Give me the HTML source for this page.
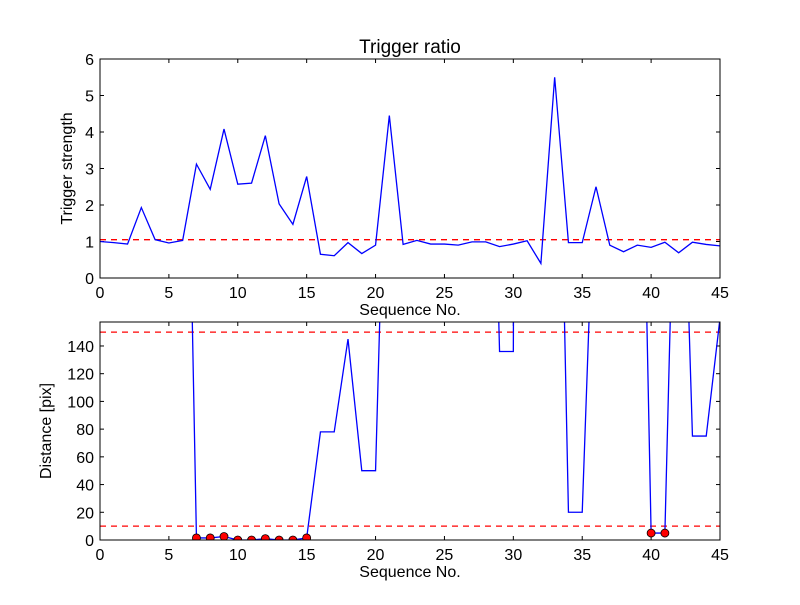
<!DOCTYPE html>
<html><head><meta charset="utf-8"><style>
body{margin:0;background:#fff;}
text{font-family:"Liberation Sans","DejaVu Sans",sans-serif;}
</style></head><body>
<svg id="chart" width="800" height="600" xmlns="http://www.w3.org/2000/svg">
<rect width="800" height="600" fill="#fff"/>
</svg>
<script>
const seq = Array.from({length:46},(_, i)=>i);
const strength = [1.0,0.97,0.93,1.93,1.05,0.96,1.03,3.12,2.43,4.08,2.57,2.6,3.9,2.03,1.47,2.78,0.65,0.61,0.97,0.67,0.9,4.45,0.92,1.03,0.93,0.93,0.9,0.99,0.99,0.86,0.93,1.02,0.4,5.5,0.97,0.97,2.5,0.9,0.72,0.9,0.84,0.98,0.69,0.98,0.92,0.88];
const distance = [520,520,520,520,520,520,520,1.5,1.5,2.5,0,0,1,0,0,1.5,78,78,145,50,50,407,500,500,500,500,500,500,520,136,136,3000,500,500,20,20,300,500,500,500,5,5,400,75,75,160];
const strengthThreshold = 1.05;
const distThresholds = [150,10];
const xTicks = [0,5,10,15,20,25,30,35,40,45];
const yTicksTop = [0,1,2,3,4,5,6];
const yTicksBot = [0,20,40,60,80,100,120,140];

const svg = document.getElementById('chart');
const NS = 'http://www.w3.org/2000/svg';
function mk(tag, attrs, parent){const e=document.createElementNS(NS,tag);for(const k in attrs)e.setAttribute(k,attrs[k]);(parent||svg).appendChild(e);return e;}
const X0=100,X1=720;
const xs = v => X0 + v/45*(X1-X0);
const topAx = {y0:278,y1:59,max:6};
const botAx = {y0:540,y1:322,max:157.3};
const ysT = v => topAx.y0 - v/topAx.max*(topAx.y0-topAx.y1);
const ysB = v => botAx.y0 - v/botAx.max*(botAx.y0-botAx.y1);

mk('defs',{}).innerHTML='<clipPath id="cb"><rect x="100" y="322" width="620" height="218"/></clipPath><clipPath id="ct"><rect x="100" y="59" width="620" height="219"/></clipPath>';

function axes(a, ys, yTicks, name, ylabel){
  const g = mk('g',{});
  
  
  xTicks.forEach(t=>{
    const x=xs(t);
    mk('line',{x1:x,x2:x,y1:a.y0,y2:a.y0-4,stroke:'#000'},g);
    mk('line',{x1:x,x2:x,y1:a.y1,y2:a.y1+4,stroke:'#000'},g);
    const tx=mk('text',{x:x,y:a.y0+20,'text-anchor':'middle','font-size':16},g);
    tx.textContent=t;
    
    
  });
  yTicks.forEach(t=>{
    const y=ys(t);
    mk('line',{x1:X0,x2:X0+4,y1:y,y2:y,stroke:'#000'},g);
    mk('line',{x1:X1,x2:X1-4,y1:y,y2:y,stroke:'#000'},g);
    const tx=mk('text',{x:X0-6,y:y+6,'text-anchor':'end','font-size':16},g);
    tx.textContent=t;
    
    
  });
  const xl=mk('text',{x:410,y:a.y0+37,'text-anchor':'middle','font-size':16},g);
  xl.textContent='Sequence No.';
  
  
  const cy=(a.y0+a.y1)/2;
  const yl=mk('text',{x:0,y:0,'text-anchor':'middle','font-size':16,transform:`translate(${name==='top'?72:51},${cy}) rotate(-90)`},g);
  yl.textContent=ylabel;
  
  
}

axes(topAx, ysT, yTicksTop, 'top', 'Trigger strength');
const thT=mk('line',{x1:X0,x2:X1,y1:ysT(strengthThreshold),y2:ysT(strengthThreshold),stroke:'#f00','stroke-width':1.3,'stroke-dasharray':'6,5'});


const lt=mk('polyline',{points:seq.map((s,i)=>xs(s)+','+ysT(strength[i])).join(' '),fill:'none',stroke:'#00f','stroke-width':1.3,'clip-path':'url(#ct)'});


mk('rect',{x:X0,y:topAx.y1,width:X1-X0,height:topAx.y0-topAx.y1,fill:'none',stroke:'#000'});
const title=mk('text',{x:410,y:53,'text-anchor':'middle','font-size':19});
title.textContent='Trigger ratio';



axes(botAx, ysB, yTicksBot, 'bottom', 'Distance [pix]');
distThresholds.forEach(t=>{
  const l=mk('line',{x1:X0,x2:X1,y1:ysB(t),y2:ysB(t),stroke:'#f00','stroke-width':1.3,'stroke-dasharray':'6,5'});
  
  
});
const lb=mk('polyline',{points:seq.map((s,i)=>xs(s)+','+ysB(distance[i])).join(' '),fill:'none',stroke:'#00f','stroke-width':1.3,'clip-path':'url(#cb)'});


seq.forEach((s,i)=>{
  if(distance[i]<distThresholds[1]){
    const c=mk('circle',{cx:xs(s),cy:ysB(distance[i]),r:4,fill:'#f00',stroke:'#000','stroke-width':0.8,'clip-path':'url(#cb)'});
    
    
  }
});
mk('rect',{x:X0,y:botAx.y1,width:X1-X0,height:botAx.y0-botAx.y1,fill:'none',stroke:'#000'});
</script>
</body></html>
